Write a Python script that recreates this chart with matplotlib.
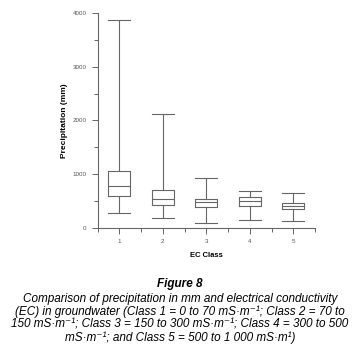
import matplotlib.pyplot as plt
from matplotlib.ticker import MultipleLocator

plt.rcParams['font.family'] = ['Liberation Sans', 'DejaVu Sans']

# box statistics (mm)
classes = [1, 2, 3, 4, 5]
whislo = [268, 175, 82, 138, 119]
q1 = [585, 417, 380, 399, 343]
med = [771, 529, 473, 492, 399]
q3 = [1050, 697, 529, 566, 455]
whishi = [3870, 2113, 920, 678, 641]

stats = []
for i in range(len(classes)):
    stats.append(dict(label=str(classes[i]), whislo=whislo[i], q1=q1[i], med=med[i],
                      q3=q3[i], whishi=whishi[i], fliers=[]))

col = '#666666'
fig = plt.figure(figsize=(3.6, 3.57), dpi=100)
ax = fig.add_axes([0.271, 0.362, 0.604, 0.601])

ax.bxp(stats, positions=classes, widths=0.5, showfliers=False,
       boxprops=dict(color=col, linewidth=0.8),
       medianprops=dict(color=col, linewidth=0.8),
       whiskerprops=dict(color=col, linewidth=0.8),
       capprops=dict(color=col, linewidth=0.8), capwidths=0.5)

ax.set_xlim(0.5, 5.5)
ax.set_ylim(0, 4000)
ax.yaxis.set_major_locator(MultipleLocator(1000))
ax.yaxis.set_minor_locator(MultipleLocator(500))
ax.xaxis.set_minor_locator(MultipleLocator(0.5))
ax.set_xticks(classes)
ax.set_xticklabels([str(c) for c in classes])

for s in ['top', 'right']:
    ax.spines[s].set_visible(False)
for s in ['left', 'bottom']:
    ax.spines[s].set_color(col)
    ax.spines[s].set_linewidth(0.8)
ax.tick_params(which='major', length=4, width=0.7, color=col, labelsize=4.5,
               labelcolor='#555555', pad=4)
ax.tick_params(which='minor', length=3, width=0.7, color=col)

ax.set_ylabel('Precipitation (mm)', fontsize=6, fontweight='bold', labelpad=3)
ax.set_xlabel('EC Class', fontsize=5.5, fontweight='bold', labelpad=6)

fig.text(0.5, 0.204, 'Figure 8', ha='center', va='center', fontsize=8.5,
         fontweight='bold', style='italic')
caption = ('Comparison of precipitation in mm and electrical conductivity\n'
           '(EC) in groundwater (Class 1 = 0 to 70 mS\u00b7m\u207b\u00b9; Class 2 = 70 to\n'
           '150 mS\u00b7m\u207b\u00b9; Class 3 = 150 to 300 mS\u00b7m\u207b\u00b9; Class 4 = 300 to 500\n'
           'mS\u00b7m\u207b\u00b9; and Class 5 = 500 to 1 000 mS\u00b7m\u00b9)')
fig.text(0.5, 0.108, caption, ha='center', va='center', fontsize=8.5,
         style='italic', linespacing=1.05)

fig.savefig('out.png', dpi=100)
